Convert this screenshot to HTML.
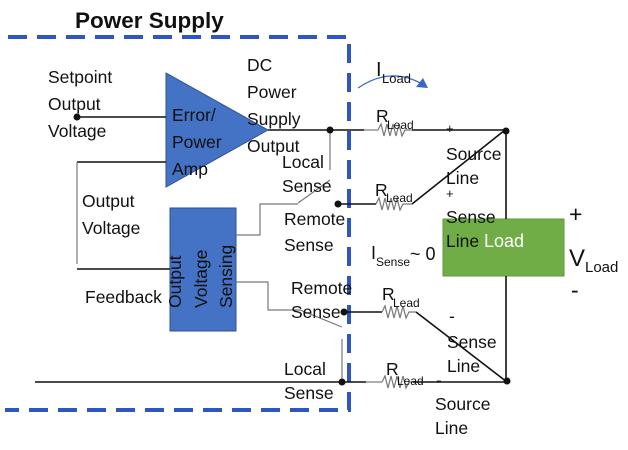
<!DOCTYPE html>
<html><head><style>
html,body{margin:0;padding:0;background:#fff;}
svg{display:block;}
text{font-family:"Liberation Sans",sans-serif;font-size:17.5px;fill:#111;}
.s{font-size:12px;}
</style></head><body>
<svg width="628" height="450" viewBox="0 0 628 450" xmlns="http://www.w3.org/2000/svg">
<path d="M8 37 H349 V410 H5" fill="none" stroke="#2F55C0" stroke-width="4" stroke-dasharray="19 10"/>
<text x="75" y="28" style="font-size:22.5px;font-weight:bold">Power Supply</text>

<polygon points="166,73 166,187 268,130" fill="#4472C4" stroke="#2F528F" stroke-width="1"/>
<rect x="170" y="208" width="66" height="123" fill="#4472C4" stroke="#2F528F" stroke-width="1"/>
<rect x="443" y="219" width="121" height="57" fill="#70AD47" stroke="#5E9A3A" stroke-width="1"/>

<g stroke="#111" stroke-width="1.6" fill="none">
<line x1="77" y1="117" x2="166" y2="117"/>
<line x1="77" y1="162" x2="166" y2="162"/>
<line x1="77" y1="269" x2="170" y2="269"/>
<line x1="268" y1="130" x2="364" y2="130"/>
<line x1="412" y1="130" x2="505" y2="130"/>
<line x1="338" y1="204" x2="376" y2="204"/>
<line x1="412" y1="204" x2="505" y2="130"/>
<line x1="344" y1="312" x2="382" y2="312"/>
<line x1="416" y1="312" x2="507" y2="382"/>
<line x1="35" y1="382" x2="366" y2="382"/>
<line x1="413" y1="382" x2="507" y2="382"/>
<line x1="506" y1="130" x2="506" y2="219"/>
<line x1="506" y1="276" x2="506" y2="382"/>
</g>
<g stroke="#777" stroke-width="1.2" fill="none">
<line x1="77" y1="162" x2="77" y2="264"/>
<line x1="330" y1="130" x2="330" y2="170"/>
<line x1="330" y1="180" x2="298" y2="203"/>
<polyline points="298,204 260,204 260,235 236,235"/>
<polyline points="236,282 268,282 268,310 300,310 342,327"/>
<line x1="342" y1="339" x2="342" y2="382"/>
<line x1="364" y1="130" x2="378" y2="130"/>
<line x1="366" y1="382" x2="382" y2="382"/>
<polyline points="378,130 381,124 384,136 387,124 390,136 393,124 396,136 399,124 402,136 405,130 412,130"/>
<polyline points="376,204 379,198 382,210 385,198 388,210 391,198 394,210 397,198 400,210 403,204 412,204"/>
<polyline points="382,312 385,306 388,318 391,306 394,318 397,306 400,318 403,306 406,318 409,312 416,312"/>
<polyline points="382,382 385,376 388,388 391,376 394,388 397,376 400,388 403,376 406,388 409,382 413,382"/>
</g>
<g fill="#111">
<circle cx="77" cy="117" r="3.5"/>
<circle cx="330" cy="130" r="3.5"/>
<circle cx="338" cy="204" r="3.5"/>
<circle cx="344" cy="312" r="3.5"/>
<circle cx="342" cy="382" r="3.5"/>
<circle cx="506" cy="131" r="3.5"/>
<circle cx="507" cy="381" r="3.5"/>
</g>
<path d="M358 88 Q390 66 422 84" fill="none" stroke="#3A66C8" stroke-width="1.3"/>
<polygon points="428,88 416,87 423,78" fill="#3A66C8"/>

<text x="48" y="83">Setpoint</text>
<text x="48" y="110">Output</text>
<text x="48" y="137">Voltage</text>
<text x="172" y="121">Error/</text>
<text x="172" y="148">Power</text>
<text x="172" y="175">Amp</text>
<text x="247" y="71">DC</text>
<text x="247" y="98">Power</text>
<text x="247" y="125">Supply</text>
<text x="247" y="152">Output</text>
<text x="282" y="168">Local</text>
<text x="282" y="192">Sense</text>
<text x="284" y="225">Remote</text>
<text x="284" y="251">Sense</text>
<text x="82" y="207">Output</text>
<text x="82" y="234">Voltage</text>
<text x="85" y="303">Feedback</text>
<g transform="translate(181,308) rotate(-90)"><text x="0" y="0">Output</text></g>
<g transform="translate(207,308) rotate(-90)"><text x="0" y="0">Voltage</text></g>
<g transform="translate(232,308) rotate(-90)"><text x="0" y="0">Sensing</text></g>
<text x="291" y="294">Remote</text>
<text x="291" y="318">Sense</text>
<text x="284" y="375">Local</text>
<text x="284" y="399">Sense</text>

<text x="376" y="76" style="font-size:20px">I</text><text x="382" y="83" class="s" style="font-size:13px">Load</text>
<text x="376" y="122">R</text><text x="387" y="129" class="s">Lead</text>
<text x="375" y="196">R</text><text x="386" y="202" class="s">Lead</text>
<text x="382" y="300">R</text><text x="393" y="307" class="s">Lead</text>
<text x="386" y="375">R</text><text x="397" y="385" class="s">Lead</text>
<text x="446" y="133" style="font-size:13px">+</text>
<text x="446" y="160">Source</text>
<text x="446" y="184">Line</text>
<text x="446" y="198" style="font-size:13px">+</text>
<text x="446" y="223">Sense</text>
<text x="446" y="247">Line</text>
<text x="484" y="247" style="fill:#fff;font-size:18px">Load</text>
<text x="371" y="259" style="font-size:18px">I</text><text x="376" y="266" class="s">Sense</text>
<text x="410" y="260" style="font-size:18px">~ 0</text>
<text x="449" y="322">-</text>
<text x="447" y="348">Sense</text>
<text x="447" y="372">Line</text>
<text x="436" y="386">-</text>
<text x="435" y="410">Source</text>
<text x="435" y="434">Line</text>
<text x="569" y="222" style="font-size:23px">+</text>
<text x="569" y="266" style="font-size:24px">V</text><text x="585" y="272" style="font-size:15px">Load</text>
<text x="571" y="298" style="font-size:23px">-</text>
</svg>
</body></html>
